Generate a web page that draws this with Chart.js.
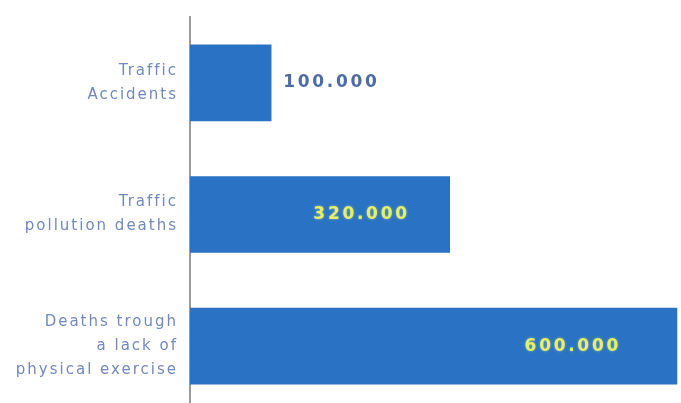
<!DOCTYPE html>
<html>
<head>
    <title>Deaths bar chart</title>
    <script src="https://cdn.jsdelivr.net/npm/chart.js"></script>
    <style>
        html, body { margin: 0; padding: 0; background: #ffffff; overflow: hidden; }
        .chart-box { width: 681px; height: 412px; position: relative; }
    </style>
</head>
<body>
    <div class="chart-box">
        <canvas id="myChart"></canvas>
    </div>

    <script>
        // chart data
        var categories = [
            ['Traffic', 'Accidents'],
            ['Traffic', 'pollution deaths'],
            ['Deaths trough', 'a lack of', 'physical exercise']
        ];
        var deaths = [100000, 320000, 600000];
        var valueLabels = ['100.000', '320.000', '600.000'];

        // how far the text sits in from the end of the bar (0 = outside)
        var insideOffsets = [0, 40, 56];

        // draws the value text next to / inside every bar
        var valueLabelPlugin = {
            id: 'valueLabels',
            beforeDraw: function(chart) {
                chart.ctx.letterSpacing = '2px';
            },
            afterDatasetsDraw: function(chart) {
                var ctx = chart.ctx;
                var meta = chart.getDatasetMeta(0);
                ctx.save();
                ctx.letterSpacing = '2.7px';
                ctx.font = 'bold 17px "DejaVu Sans"';
                ctx.textBaseline = 'middle';
                meta.data.forEach(function(bar, i) {
                    if (insideOffsets[i] === 0) {
                        ctx.textAlign = 'left';
                        ctx.fillStyle = '#4d6ca4';
                        ctx.fillText(valueLabels[i], bar.x + 12, bar.y);
                    } else {
                        ctx.textAlign = 'right';
                        ctx.fillStyle = '#e6ef6c';
                        ctx.shadowColor = 'rgba(225,240,110,0.55)';
                        ctx.shadowBlur = 3;
                        ctx.fillText(valueLabels[i], bar.x - insideOffsets[i], bar.y);
                        ctx.shadowBlur = 0;
                    }
                });
                ctx.restore();
            }
        };

        var ctx = document.getElementById('myChart').getContext('2d');
        var barChart = new Chart(ctx, {
            type: 'bar',
            data: {
                labels: categories,
                datasets: [{
                    data: deaths,
                    backgroundColor: '#2a72c4',
                    borderWidth: 0,
                    barThickness: 76
                }]
            },
            options: {
                indexAxis: 'y',
                responsive: true,
                maintainAspectRatio: false,
                animation: false,
                layout: { padding: { top: 17, right: 0, bottom: 0, left: 0 } },
                plugins: {
                    legend: { display: false },
                    tooltip: { enabled: false }
                },
                scales: {
                    x: {
                        display: false,
                        min: 0,
                        max: 605000
                    },
                    y: {
                        afterFit: function(scale) {
                            scale.width = 190;
                            scale.paddingTop = 0;
                            scale.paddingBottom = 0;
                        },
                        grid: { display: false, drawTicks: false },
                        border: { display: true, color: '#9a9a9a', width: 2 },
                        ticks: {
                            padding: 12,
                            color: '#7189bd',
                            font: { family: '"DejaVu Sans"', size: 15, lineHeight: 1.6 }
                        }
                    }
                }
            },
            plugins: [valueLabelPlugin]
        });
    </script>
</body>
</html>
